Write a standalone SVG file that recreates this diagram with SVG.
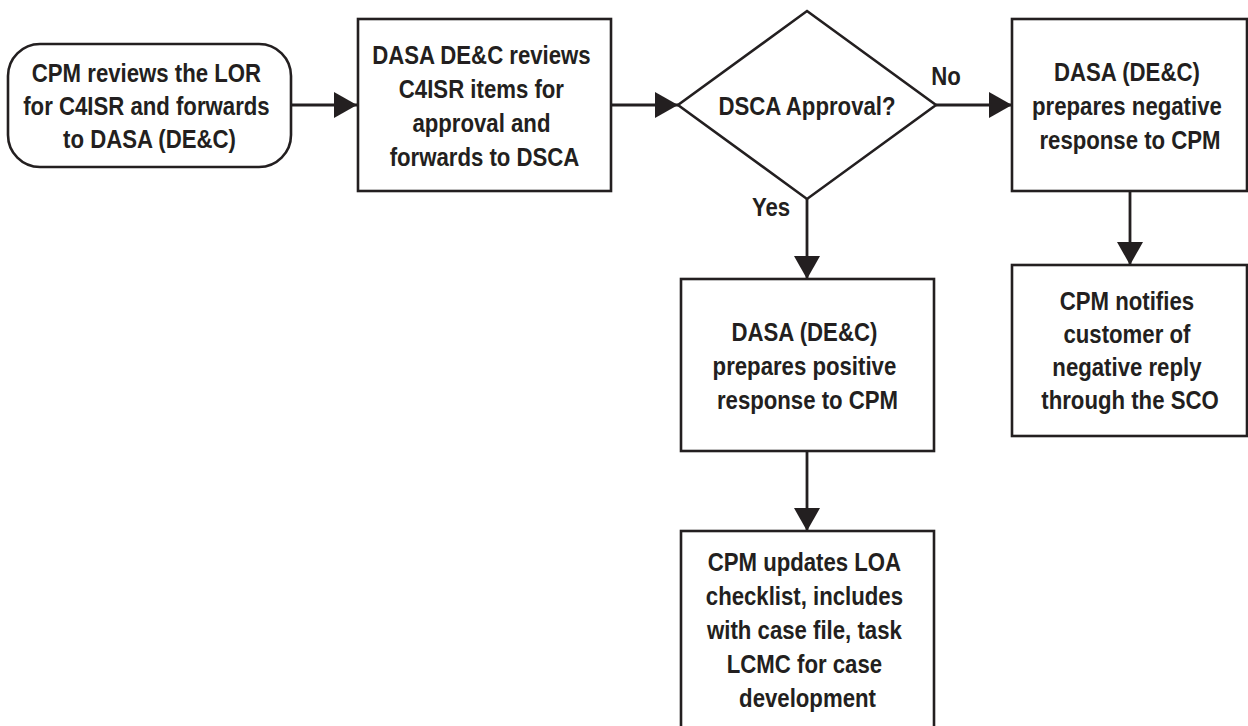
<svg xmlns="http://www.w3.org/2000/svg" width="1248" height="726" viewBox="0 0 1248 726">
  <style>
    .shape { fill: #ffffff; stroke: #231f20; stroke-width: 2.6; }
    .conn { fill: none; stroke: #231f20; stroke-width: 2.8; }
    .lbl { font-family: "Liberation Sans", Arial, sans-serif; font-weight: bold; font-size: 25.5px; fill: #231f20; text-anchor: middle; }
  </style>
  <defs>
    <marker id="arrow" markerUnits="userSpaceOnUse" markerWidth="24" markerHeight="26" refX="23" refY="13" orient="auto">
      <path d="M0,0 L23,13 L0,26 Z" fill="#231f20"/>
    </marker>
  </defs>
  <rect width="1248" height="726" fill="#ffffff"/>

  <g id="connectors">
    <line class="conn" x1="291" y1="105" x2="357" y2="105" marker-end="url(#arrow)"/>
    <line class="conn" x1="611" y1="105" x2="678" y2="105" marker-end="url(#arrow)"/>
    <line class="conn" x1="936" y1="105" x2="1012" y2="105" marker-end="url(#arrow)"/>
    <line class="conn" x1="807" y1="199" x2="807" y2="279" marker-end="url(#arrow)"/>
    <line class="conn" x1="1130" y1="191" x2="1130" y2="265" marker-end="url(#arrow)"/>
    <line class="conn" x1="807" y1="451" x2="807" y2="531" marker-end="url(#arrow)"/>
    <text class="lbl" transform="translate(946,0) scale(0.87,1)"><tspan x="0" y="85">No</tspan></text>
    <text class="lbl" transform="translate(771,0) scale(0.87,1)"><tspan x="0" y="216">Yes</tspan></text>
  </g>

  <g id="node-start">
    <rect class="shape" x="8" y="44" width="283" height="123" rx="32" ry="32"/>
    <text class="lbl" transform="translate(149.5,0) scale(0.87,1)">
      <tspan x="0" y="82">CPM reviews the LOR</tspan>
      <tspan x="0" y="115">for C4ISR and forwards</tspan>
      <tspan x="0" y="148">to DASA (DE&amp;C)</tspan>
    </text>
  </g>

  <g id="node-review">
    <rect class="shape" x="358" y="19" width="253" height="172"/>
    <text class="lbl" transform="translate(484.5,0) scale(0.87,1)">
      <tspan x="0" y="64">DASA DE&amp;C reviews</tspan>
      <tspan x="0" y="98">C4ISR items for</tspan>
      <tspan x="0" y="132">approval and</tspan>
      <tspan x="0" y="166">forwards to DSCA</tspan>
    </text>
  </g>

  <g id="node-decision">
    <polygon class="shape" points="807,11 936,105 807,199 678,105"/>
    <text class="lbl" transform="translate(807,0) scale(0.87,1)"><tspan x="0" y="115">DSCA Approval?</tspan></text>
  </g>

  <g id="node-negative">
    <rect class="shape" x="1012" y="19" width="235" height="172"/>
    <text class="lbl" transform="translate(1130,0) scale(0.87,1)">
      <tspan x="0" y="81">DASA (DE&amp;C)</tspan>
      <tspan x="0" y="115">prepares negative</tspan>
      <tspan x="0" y="149">response to CPM</tspan>
    </text>
  </g>

  <g id="node-notify">
    <rect class="shape" x="1012" y="265" width="235" height="171"/>
    <text class="lbl" transform="translate(1130,0) scale(0.87,1)">
      <tspan x="0" y="310">CPM notifies</tspan>
      <tspan x="0" y="343">customer of</tspan>
      <tspan x="0" y="376">negative reply</tspan>
      <tspan x="0" y="409">through the SCO</tspan>
    </text>
  </g>

  <g id="node-positive">
    <rect class="shape" x="681" y="279" width="253" height="172"/>
    <text class="lbl" transform="translate(807.5,0) scale(0.87,1)">
      <tspan x="0" y="341">DASA (DE&amp;C)</tspan>
      <tspan x="0" y="375">prepares positive</tspan>
      <tspan x="0" y="409">response to CPM</tspan>
    </text>
  </g>

  <g id="node-update">
    <rect class="shape" x="681" y="531" width="253" height="200"/>
    <text class="lbl" transform="translate(807.5,0) scale(0.87,1)">
      <tspan x="0" y="571">CPM updates LOA</tspan>
      <tspan x="0" y="605">checklist, includes</tspan>
      <tspan x="0" y="639">with case file, task</tspan>
      <tspan x="0" y="673">LCMC for case</tspan>
      <tspan x="0" y="707">development</tspan>
    </text>
  </g>
</svg>
